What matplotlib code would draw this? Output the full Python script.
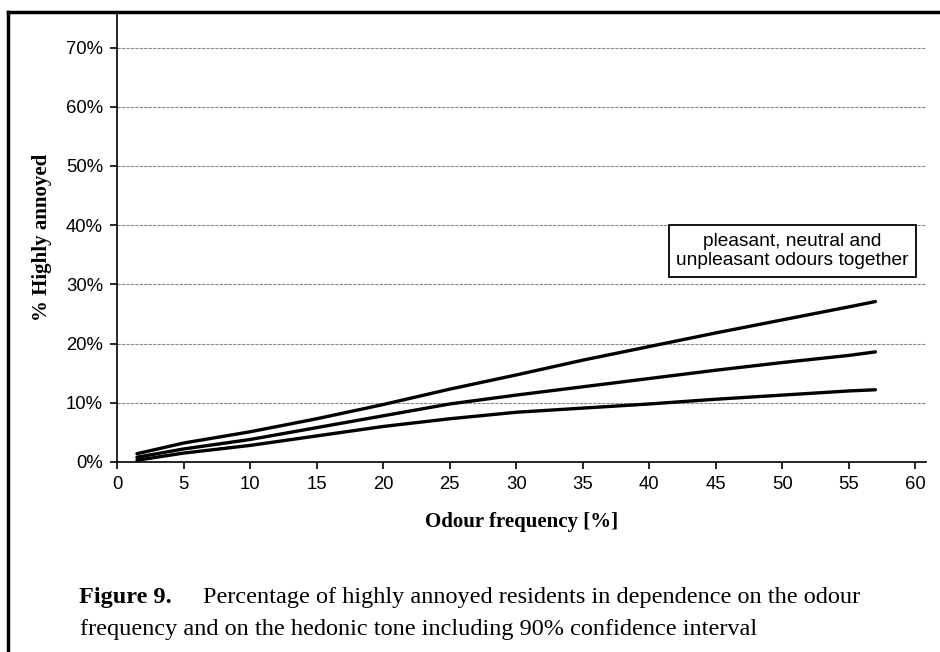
import matplotlib
matplotlib.use("Agg")
import matplotlib.pyplot as plt
from matplotlib.lines import Line2D
from matplotlib.ticker import FuncFormatter

# values
freq = [1.5, 5, 10, 15, 20, 25, 30, 35, 40, 45, 50, 55, 57]
upper = [1.4, 3.2, 5.1, 7.3, 9.7, 12.3, 14.7, 17.2, 19.5, 21.8, 24.0, 26.2, 27.1]
middle = [0.8, 2.2, 3.8, 5.8, 7.8, 9.8, 11.3, 12.7, 14.1, 15.5, 16.8, 18.0, 18.6]
lower = [0.3, 1.5, 2.8, 4.4, 6.0, 7.3, 8.4, 9.1, 9.8, 10.6, 11.3, 12.0, 12.2]
x_ticks = list(range(0, 61, 5))
y_ticks = list(range(0, 71, 10))

sans = "Liberation Sans"
serif = "Liberation Serif"

fig = plt.figure(figsize=(9.4, 6.52), dpi=100)
ax = fig.add_axes([117 / 940, 1 - 462 / 652, (926 - 117) / 940, (462 - 12) / 652])

for y in y_ticks[1:]:
    ax.axhline(y, color="#888888", lw=0.8, ls=(0, (3, 1)), zorder=1)

for s in [upper, middle, lower]:
    ax.plot(freq, s, color="black", lw=2.4, solid_capstyle="round", zorder=3)

ax.set_xlim(0, 60.8)
ax.set_ylim(0, 76)
ax.set_xticks(x_ticks)
ax.set_yticks(y_ticks)
ax.yaxis.set_major_formatter(FuncFormatter(lambda v, p: f"{int(v)}%"))
ax.tick_params(direction="out", length=5, width=1.2, color="black", pad=5)
for lab in ax.get_xticklabels() + ax.get_yticklabels():
    lab.set_fontfamily(sans)
    lab.set_fontsize(13.3)

for side in ["top", "right"]:
    ax.spines[side].set_visible(False)
for side in ["left", "bottom"]:
    ax.spines[side].set_linewidth(1.2)

ax.set_xlabel("Odour frequency [%]", fontfamily=serif, fontweight="bold",
              fontsize=15, labelpad=14)
ax.set_ylabel("% Highly annoyed", fontfamily=serif, fontweight="bold",
              fontsize=15, labelpad=10)

ax.text(0.835, 0.469, "pleasant, neutral and\nunpleasant odours together",
        transform=ax.transAxes, ha="center", va="center", fontfamily=sans,
        fontsize=13.8, linespacing=1.15, zorder=5,
        bbox=dict(boxstyle="square,pad=0.4", facecolor="white",
                  edgecolor="black", lw=1.3))

# caption
cap_size = 17.5
fig.text(172 / 940, 1 - 597 / 652, "Figure 9.", fontfamily=serif, ha="right",
         fontweight="bold", fontsize=cap_size, va="center")
fig.text(203 / 940, 1 - 597 / 652,
         "Percentage of highly annoyed residents in dependence on the odour",
         fontfamily=serif, fontsize=cap_size, va="center")
fig.text(80 / 940, 1 - 630 / 652,
         "frequency and on the hedonic tone including 90% confidence interval",
         fontfamily=serif, fontsize=cap_size, va="center")

# thick frame on left and top
fig.add_artist(Line2D([8 / 940, 8 / 940], [0, 1 - 12 / 652],
                      transform=fig.transFigure, color="black", lw=2.5))
fig.add_artist(Line2D([8 / 940, 1], [1 - 12 / 652, 1 - 12 / 652],
                      transform=fig.transFigure, color="black", lw=2.5))

fig.savefig("out.png", dpi=100, facecolor="white")
